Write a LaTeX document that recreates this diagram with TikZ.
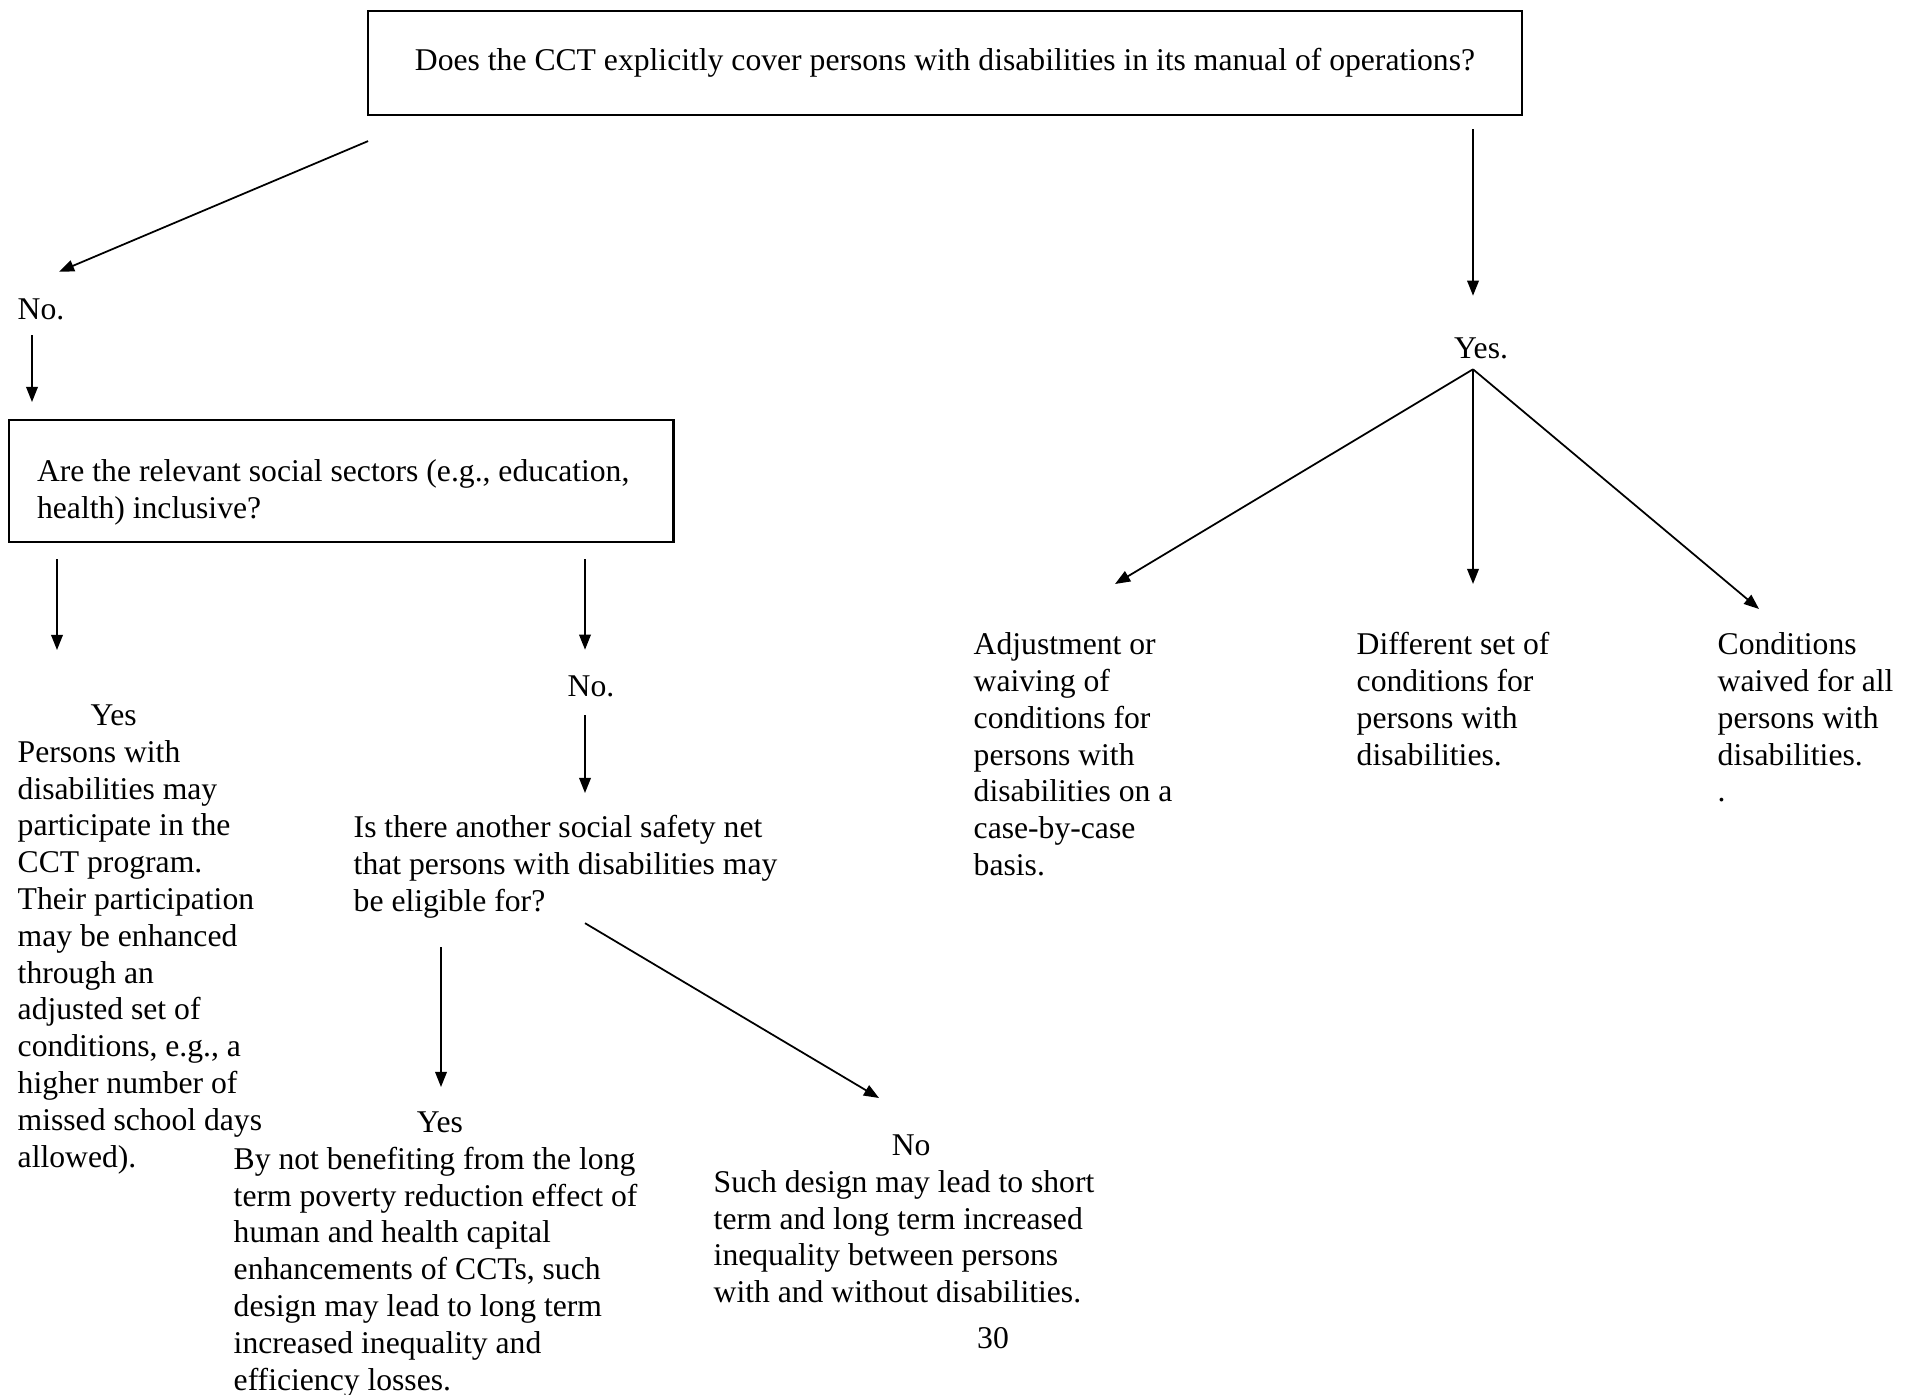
\documentclass[tikz,border=0pt]{standalone}
\usepackage{fontspec}
\setmainfont{Liberation Serif}
\usetikzlibrary{arrows.meta, positioning, calc}

\begin{document}
\begin{tikzpicture}[x=0.01cm, y=-0.01cm, font=\fontsize{9}{10.47}\selectfont]
\tikzstyle{question} = [rectangle, draw=black, line width=0.6pt, inner sep=0pt]
\tikzstyle{answer} = [align=left, inner sep=0pt, anchor=north west]
\tikzstyle{reply} = [inner sep=0pt]
\tikzstyle{arrow} = [-{Triangle[length=4.3pt,width=3.3pt]}, line width=0.5pt]

\useasboundingbox (0,0) rectangle (1916,1394);

% Main question
\node[question, minimum width=11.53cm, minimum height=1.04cm] (cover) at (945,63) {Does the CCT explicitly cover persons with disabilities in its manual of operations?};

% No branch
\node[reply, anchor=west] (no) at (17,309) {No.};
\node[question, anchor=north west, align=flush left, text width=6.08cm, inner xsep=0.28cm, minimum height=1.22cm] (sectors) at (8,419) {\noindent\rule{0pt}{12.5pt}Are the relevant social sectors (e.g., education,\\health) inclusive?};
\node[answer] (partake) at (17,704) {\hspace*{0.73cm}Yes\\Persons with\\disabilities may\\participate in the\\CCT program.\\Their participation\\may be enhanced\\through an\\adjusted set of\\conditions, e.g., a\\higher number of\\missed school days\\allowed).};
\node[reply] (no2) at (591,686) {No.};
\node[answer] (safety) at (353,815) {Is there another social safety net\\that persons with disabilities may\\be eligible for?};
\node[answer] (eligible) at (233,1111) {\hspace*{1.83cm}Yes\\By not benefiting from the long\\term poverty reduction effect of\\human and health capital\\enhancements of CCTs, such\\design may lead to long term\\increased inequality and\\efficiency losses.};
\node[answer] (noother) at (713,1134) {\hspace*{1.78cm}No\\Such design may lead to short\\term and long term increased\\inequality between persons\\with and without disabilities.};

% Yes branch
\node[reply] (yes) at (1481,348) {Yes.};
\node[answer] (adjust) at (973,632) {Adjustment or\\waiving of\\conditions for\\persons with\\disabilities on a\\case-by-case\\basis.};
\node[answer] (different) at (1356,632) {Different set of\\conditions for\\persons with\\disabilities.};
\node[answer] (waived) at (1717,632) {Conditions\\waived for all\\persons with\\disabilities.\\.};

% Page number
\node[reply] (page) at (993,1338) {30};

% Connections
\draw[arrow] ($(cover.south west)+(1,25)$) -- ($(no.north)+(18,-26)$);
\draw[arrow] ($(no.south west)+(15,15)$) -- ($(sectors.north west)+(24,-17)$);
\draw[arrow] ($(sectors.south west)+(49,16)$) -- ($(partake.north west)+(40,-54)$);
\draw[arrow] ($(no2.north |- sectors.south)+(-6,16)$) -- ($(no2.north)+(-6,-25)$);
\draw[arrow] ($(no2.south)+(-6,18)$) -- ($(safety.north west)+(232,-22)$);
\draw[arrow] ($(safety.south west)+(88,28)$) -- ($(eligible.north west)+(208,-24)$);
\draw[arrow] ($(safety.south west)+(232,4)$) -- ($(noother.north west)+(166,-36)$);
\draw[arrow] ($(yes.north |- cover.south)+(-8,13)$) -- ($(yes.north)+(-8,-41)$);
\coordinate (fan) at ($(yes.south)+(-8,10)$);
\draw[arrow] (fan) -- ($(adjust.north west)+(142,-48)$);
\draw[arrow] (fan) -- ($(different.north west)+(117,-48)$);
\draw[arrow] (fan) -- ($(waived.north west)+(42,-23)$);
\end{tikzpicture}
\end{document}
